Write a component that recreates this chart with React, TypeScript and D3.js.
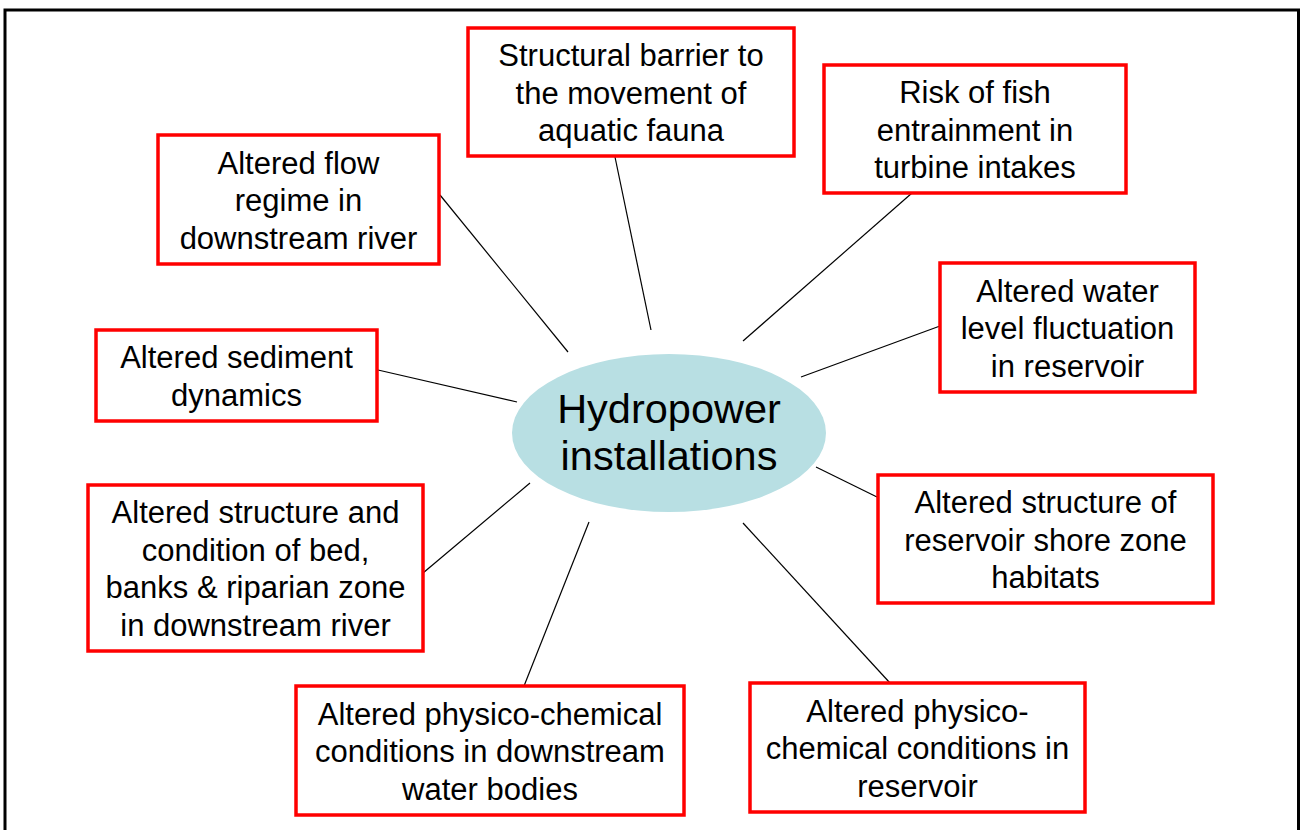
import React, { useEffect, useRef } from 'react';
import * as d3 from 'd3';

const hubLabel = ["Hydropower", "installations"];

const impactLabels = [
  ["Structural barrier to", "the movement of", "aquatic fauna"],
  ["Risk of fish", "entrainment in", "turbine intakes"],
  ["Altered flow", "regime in", "downstream river"],
  ["Altered sediment", "dynamics"],
  ["Altered water", "level fluctuation", "in reservoir"],
  ["Altered structure of", "reservoir shore zone", "habitats"],
  ["Altered structure and", "condition of bed,", "banks & riparian zone", "in downstream river"],
  ["Altered physico-chemical", "conditions in downstream", "water bodies"],
  ["Altered physico-", "chemical conditions in", "reservoir"],
];

// box extents [x0, y0, x1, y1]
const boxLayout = [
  [468, 28, 794, 156],
  [824, 65, 1126, 193],
  [158, 135, 439, 264],
  [96, 330, 377, 421],
  [940, 263, 1195, 392],
  [878, 475, 1213, 603],
  [88, 485, 423, 651],
  [296, 686, 684, 815],
  [750, 683, 1085, 812],
];

// connector ends [boxX, boxY, hubX, hubY]
const linkLayout = [
  [615, 157, 651, 330],
  [912, 193, 743, 341],
  [440, 195, 568, 352],
  [378, 370, 517, 402],
  [940, 326, 801, 377],
  [877, 497, 816, 467],
  [423, 573, 530, 483],
  [524, 686, 589, 522],
  [890, 683, 743, 523],
];

const hub = { cx: 669, cy: 433, rx: 157, ry: 79 };

export default function App() {
  const ref = useRef<SVGSVGElement>(null);

  useEffect(() => {
    const svg = d3.select(ref.current);
    svg.selectAll("*").remove();

    const font = "Arial, 'Liberation Sans', sans-serif";
    const lh = 37.5;

    // outer frame
    svg.append("rect")
      .attr("x", 5).attr("y", 10)
      .attr("width", 1293.5).attr("height", 840)
      .attr("fill", "none").attr("stroke", "#000").attr("stroke-width", 3);

    const line = d3.line<number[]>().x(d => d[0]).y(d => d[1]);

    svg.append("ellipse")
      .attr("cx", hub.cx).attr("cy", hub.cy)
      .attr("rx", hub.rx).attr("ry", hub.ry)
      .attr("fill", "#b8dfe3");

    svg.selectAll("path.link")
      .data(linkLayout)
      .join("path")
        .attr("class", "link")
        .attr("d", d => line([[d[0], d[1]], [d[2], d[3]]]))
        .attr("stroke", "#000").attr("stroke-width", 1.2).attr("fill", "none");

    const hubText = svg.append("text")
      .attr("text-anchor", "middle")
      .attr("font-family", font)
      .attr("font-size", 41.5);
    hubLabel.forEach((t, i) => {
      hubText.append("tspan")
        .attr("x", hub.cx)
        .attr("y", hub.cy + 13.5 + (i - (hubLabel.length - 1) / 2) * 47)
        .text(t);
    });

    const boxes = svg.selectAll("g.box")
      .data(impactLabels)
      .join("g")
        .attr("class", "box");

    boxes.append("rect")
      .attr("x", (d, i) => boxLayout[i][0])
      .attr("y", (d, i) => boxLayout[i][1])
      .attr("width", (d, i) => boxLayout[i][2] - boxLayout[i][0])
      .attr("height", (d, i) => boxLayout[i][3] - boxLayout[i][1])
      .attr("fill", "#fff")
      .attr("stroke", "#ff0000")
      .attr("stroke-width", 3.5);

    boxes.append("text")
      .attr("text-anchor", "middle")
      .attr("font-family", font)
      .attr("font-size", 31)
      .each(function (d, i) {
        const b = boxLayout[i];
        const cx = (b[0] + b[2]) / 2;
        const cy = (b[1] + b[3]) / 2;
        d3.select(this).selectAll("tspan")
          .data(d)
          .join("tspan")
            .attr("x", cx)
            .attr("y", (t, j) => cy + 11.5 + (j - (d.length - 1) / 2) * lh)
            .text(t => t);
      });
  }, []);

  return (
    <svg ref={ref} width={1300} height={830}
      style={{ position: "absolute", left: 0, top: 0, background: "#fff" }} />
  );
}
